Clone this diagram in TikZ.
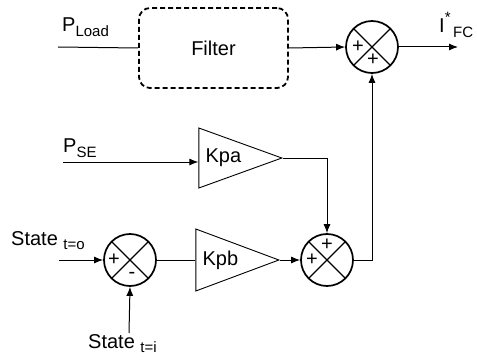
\documentclass[tikz,border=0pt]{standalone}
\usepackage{fontspec}
\setmainfont{Liberation Sans}
\usetikzlibrary{arrows.meta,positioning,calc,shapes.geometric}

\newcommand{\lowtxt}[1]{\raisebox{-4.5pt}{\fontsize{15}{15}\selectfont #1}}

\begin{document}
\begin{tikzpicture}[
  x=1pt, y=-1pt,
  font=\fontsize{20}{24}\selectfont,
  >={Latex[length=9pt,width=7pt]},
  filt/.style={draw,line width=1.8pt,dash pattern=on 5pt off 3pt,rounded corners=11pt,
               minimum width=149pt,minimum height=80pt,inner sep=0pt},
  gain/.style={draw,line width=0.9pt,isosceles triangle,isosceles triangle stretches,
               minimum width=#1,minimum height=83pt,inner sep=0pt,anchor=apex},
  sumjn/.style={draw,circle,line width=1.7pt,minimum size=52pt,inner sep=0pt,
                path picture={
                  \draw[line width=1.3pt] (path picture bounding box.north west)
                        -- (path picture bounding box.south east);
                  \draw[line width=1.3pt] (path picture bounding box.south west)
                        -- (path picture bounding box.north east);}},
  sgn/.style={font=\fontsize{20}{20}\selectfont,inner sep=0pt},
  flow/.style={->,line width=1pt},
  wire/.style={line width=1pt},
  lbl/.style={inner sep=0pt,anchor=base west},
]

% --- blocks ---
\node[filt]      (filter) at (213.5,48) {Filter};
\node[sumjn]     (sumtop) at (372,47) {};
\node[gain=60pt] (kpa)    at (283,158) {};
\node[gain=62pt] (kpb)    at (280,260) {};
\node[sumjn]     (sumlow) at (327,260) {};
\node[sumjn]     (sumin)  at (130,260) {};
\node[anchor=west,inner sep=0pt] (kpatxt) at ([xshift=7pt]kpa.west) {Kpa};
\node[anchor=west,inner sep=0pt] (kpbtxt) at ([xshift=7pt]kpb.west) {Kpb};

% --- signs inside the junctions ---
\node[sgn] (st1) at ($(sumtop)+(-14,0)$) {+};
\node[sgn] (st2) at ($(sumtop)+(1,13)$)  {+};
\node[sgn] (sl1) at ($(sumlow)+(0,-15)$) {+};
\node[sgn] (sl2) at ($(sumlow)+(-15,0)$) {+};
\node[sgn] (si1) at ($(sumin)+(-16,0)$)  {+};
\node[sgn] (si2) at ($(sumin)+(2,15)$)   {-};

% --- free ends ---
\coordinate (pload) at (58,47);
\coordinate (pse)   at (63,162);
\coordinate (sto)   at (59,260);
\coordinate (sti)   at (129,333);
\coordinate (ifc)   at (458,47);

% --- labels ---
\node[lbl] (pltxt)  at (62,32)  {P\lowtxt{Load}};
\node[lbl] (psetxt) at (63,153) {P\lowtxt{SE}};
\node[lbl] (ifctxt) at (439,33) {I\raisebox{10pt}{\fontsize{15}{15}\selectfont *}\lowtxt{\,FC}};
\node[lbl] (stotxt) at (11,245) {State \lowtxt{t=o}};
\node[lbl] (stitxt) at (88,348) {State \lowtxt{t=i}};

% --- connectors ---
\draw[wire] (pload) -- (filter.west);
\draw[flow] (filter.east) -- (sumtop.west);
\draw[flow] (sumtop.east) -- (ifc);
\draw[flow] (pse) -- (pse -| kpa.west);
\draw[flow] (kpa.apex) -| (sumlow.north);
\draw[flow] (sto) -- (sumin.west);
\draw[flow] (sti) -- (sumin.south);
\draw[wire] (sumin.east) -- (kpb.west);
\draw[flow] (kpb.apex) -- (sumlow.west);
\draw[flow] (sumlow.east) -| (sumtop.south);

\useasboundingbox (0,0) rectangle (477,361);
\end{tikzpicture}
\end{document}
